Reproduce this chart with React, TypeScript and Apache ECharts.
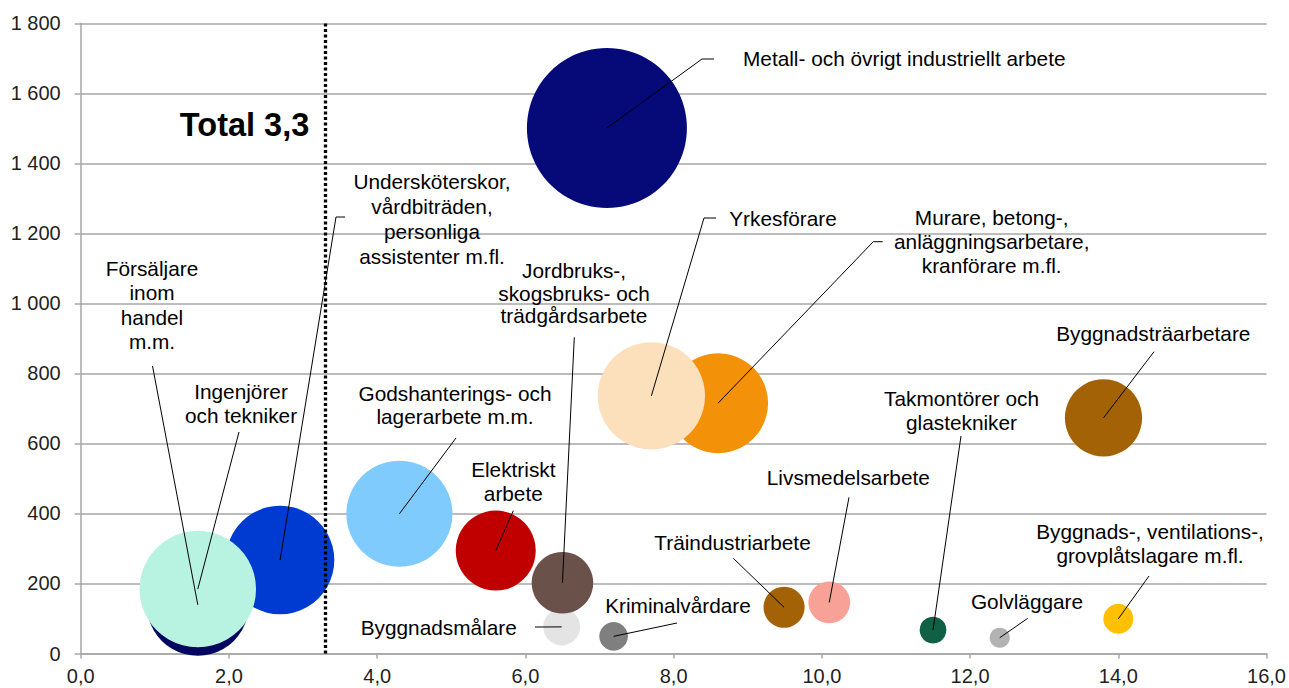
import React, { useEffect, useRef } from 'react';
import * as echarts from 'echarts';

// ---- Data (drawing order) ----
const occupations: string[] = [
  'Försäljare\ninom\nhandel\nm.m.',
  'Undersköterskor,\nvårdbiträden,\npersonliga\nassistenter m.fl.',
  'Ingenjörer\noch tekniker',
  'Godshanterings- och\nlagerarbete m.m.',
  'Elektriskt\narbete',
  'Byggnadsmålare',
  'Jordbruks-,\nskogsbruks- och\nträdgårdsarbete',
  'Kriminalvårdare',
  'Metall- och övrigt industriellt arbete',
  'Murare, betong-,\nanläggningsarbetare,\nkranförare m.fl.',
  'Yrkesförare',
  'Träindustriarbete',
  'Livsmedelsarbete',
  'Takmontörer och\nglastekniker',
  'Golvläggare',
  'Byggnads-, ventilations-,\ngrovplåtslagare m.fl.',
  'Byggnadsträarbetare',
];
const ratio: number[] = [1.58, 2.69, 1.58, 4.3, 5.6, 6.49, 6.5, 7.19, 7.1, 8.6, 7.7, 9.49, 10.1, 11.5, 12.4, 14.0, 13.8];
const vacancies: number[] = [139, 267, 184, 399, 294, 76, 202, 49, 1501, 715, 736, 132, 146, 67, 45, 99, 673];
const volume: number[] = [40.6, 46, 53, 44, 25, 5.3, 14.8, 3.2, 100, 39, 45, 6.6, 6.8, 2.8, 1.6, 3.5, 23.3];
const totalRatio = 3.3;
const xTicks = { min: 0, max: 16, interval: 2 };
const yTicks = { min: 0, max: 1800, interval: 200 };

// ---- Styles / layout ----
const colors: string[] = [
  '#03075F', '#003BD1', '#B8F2E0', '#80CBFE', '#C00000', '#E4E4E4', '#6A524B', '#7F7F7F',
  '#050A78', '#F39208', '#FCE0BC', '#A36205', '#F8A196', '#0F6045', '#B3B3B3', '#FFC000', '#A36205',
];
type Lay = { x: number; y: number; align?: 'left' | 'center'; lh?: number; leader: number[][] };
const labelLayout: Lay[] = [
  { x: 152, y: 305, lh: 24.5, leader: [[152.5, 366]] },
  { x: 432, y: 219.3, lh: 25, leader: [[336, 217], [345, 217]] },
  { x: 241, y: 403.5, lh: 24.5, leader: [[239, 432]] },
  { x: 455, y: 405, lh: 23.4, leader: [[456, 438]] },
  { x: 513.3, y: 481.3, lh: 24, leader: [[513.3, 510.7]] },
  { x: 438.7, y: 627.7, leader: [[535, 627]] },
  { x: 574, y: 293, lh: 22.5, leader: [[574.3, 337.3]] },
  { x: 678, y: 605, leader: [[677, 623]] },
  { x: 743, y: 58, align: 'left', leader: [[702, 59], [714, 59]] },
  { x: 991.7, y: 241, lh: 24, leader: [[873.3, 241.7], [882.7, 241.7]] },
  { x: 783, y: 218, leader: [[704, 218], [716, 218]] },
  { x: 732.5, y: 542.7, leader: [[733.3, 558.3]] },
  { x: 848.3, y: 477.3, leader: [[849, 497.3]] },
  { x: 961.5, y: 410, lh: 24, leader: [[961, 436]] },
  { x: 1027, y: 601.7, leader: [[1027.7, 618.3]] },
  { x: 1150, y: 543, lh: 24, leader: [[1149, 576]] },
  { x: 1153.3, y: 333.3, leader: [[1154, 351.7]] },
];

const FONT = '"Liberation Sans", Arial, sans-serif';
const GRAY = '#A6A6A6';

export default function App() {
  const ref = useRef<HTMLDivElement>(null);
  useEffect(() => {
    document.body.style.margin = '0';
    if (!ref.current) return;
    const chart = echarts.init(ref.current, null, { renderer: 'svg' });
    const data = ratio.map((x, i) => ({
      value: [x, vacancies[i], volume[i]],
      itemStyle: { color: colors[i] },
    }));
    chart.setOption({
      animation: false,
      grid: { left: 80.7, right: 21.3, top: 23.3, bottom: 34.5, containLabel: false },
      xAxis: {
        type: 'value', min: xTicks.min, max: xTicks.max, interval: xTicks.interval,
        axisLine: { show: true, lineStyle: { color: GRAY, width: 1.5 } },
        axisTick: { show: true, length: 5, lineStyle: { color: GRAY, width: 1.5 } },
        splitLine: { show: false },
        axisLabel: {
          margin: 12, fontSize: 20, fontFamily: FONT, color: '#1f1f1f',
          formatter: (v: number) => v.toFixed(1).replace('.', ','),
        },
      },
      yAxis: {
        type: 'value', min: yTicks.min, max: yTicks.max, interval: yTicks.interval,
        axisLine: { show: true, lineStyle: { color: GRAY, width: 1.5 } },
        axisTick: { show: true, length: 6, lineStyle: { color: GRAY, width: 1.5 } },
        splitLine: { show: true, lineStyle: { color: GRAY, width: 1.5 } },
        axisLabel: {
          margin: 20, fontSize: 20, fontFamily: FONT, color: '#1f1f1f',
          formatter: (v: number) =>
            v >= 1000 ? `${Math.floor(v / 1000)} ${String(v % 1000).padStart(3, '0')}` : String(v),
        },
      },
      series: [
        {
          type: 'scatter',
          data,
          symbolSize: (val: number[]) => 16 * Math.sqrt(val[2]),
          itemStyle: { opacity: 1 },
          emphasis: { disabled: true },
          silent: true,
          markLine: {
            silent: true,
            symbol: 'none',
            label: { show: false },
            lineStyle: { color: '#000', width: 3.3, type: [3, 2.5], cap: 'butt' },
            data: [{ xAxis: totalRatio }],
          },
        },
      ],
    });

    const graphics: any[] = [];
    ratio.forEach((x, i) => {
      const [cx, cy] = chart.convertToPixel({ gridIndex: 0 }, [x, vacancies[i]]) as number[];
      const lay = labelLayout[i];
      graphics.push({
        type: 'polyline', z: 100,
        shape: { points: [[cx, cy], ...lay.leader] },
        style: { stroke: '#000', lineWidth: 1, fill: null },
      });
      graphics.push({
        type: 'text', z: 101, x: lay.x, y: lay.y,
        style: {
          text: occupations[i], fill: '#000', fontSize: 20.8, fontFamily: FONT,
          align: lay.align || 'center', verticalAlign: 'middle', lineHeight: lay.lh || 24,
        },
      });
    });
    const [tx] = chart.convertToPixel({ gridIndex: 0 }, [totalRatio, 0]) as number[];
    graphics.push({
      type: 'text', z: 101, x: tx - 16, y: 125,
      style: {
        text: 'Total 3,3', fill: '#000', fontSize: 32.5, fontWeight: 'bold', fontFamily: FONT,
        align: 'right', verticalAlign: 'middle',
      },
    });
    chart.setOption({ graphic: graphics });

    return () => chart.dispose();
  }, []);
  return <div ref={ref} style={{ width: 1289, height: 688 }} />;
}
